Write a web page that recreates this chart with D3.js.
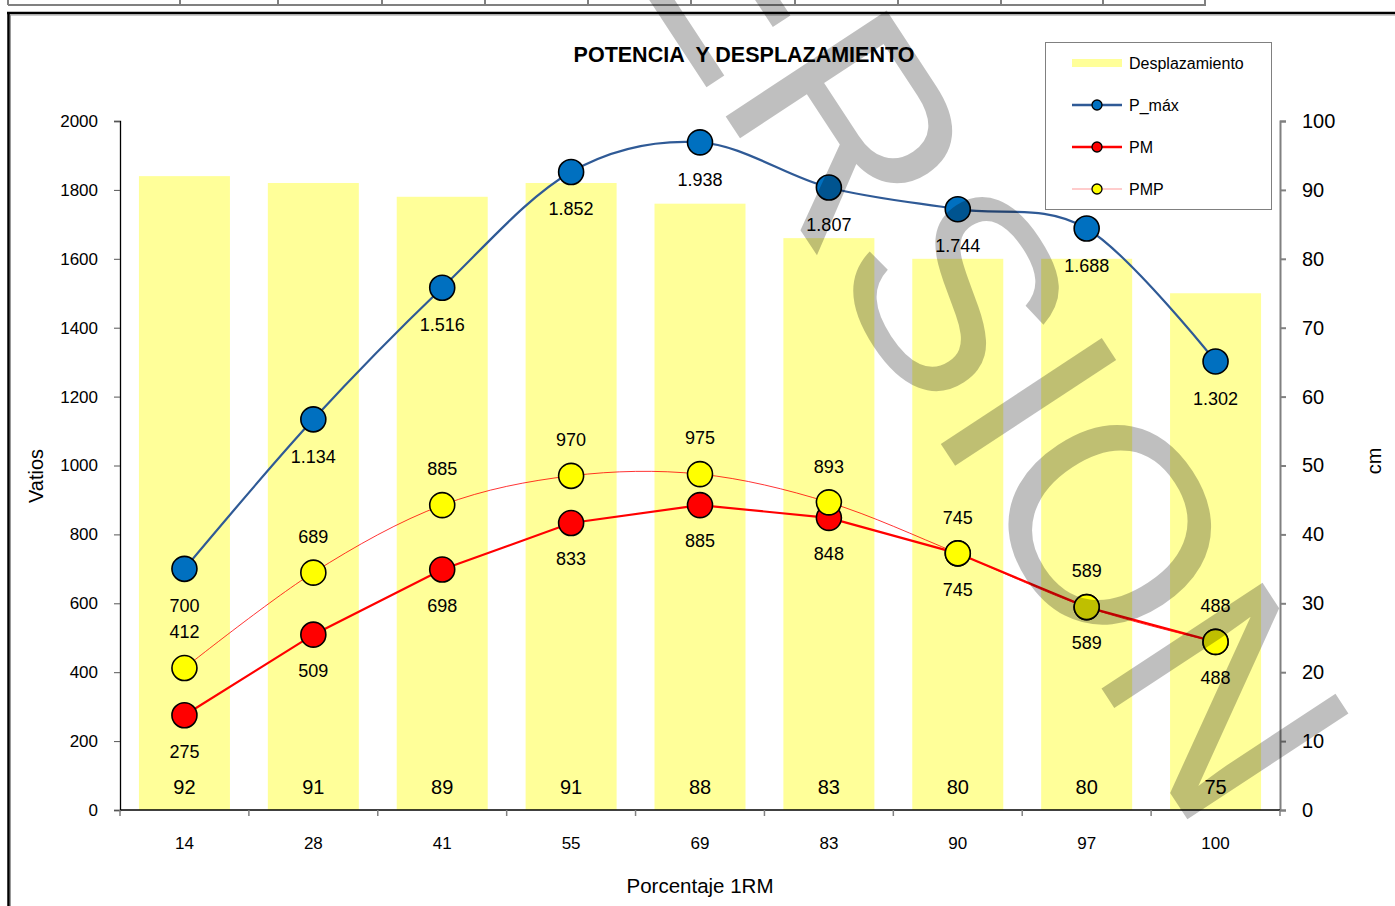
<!DOCTYPE html>
<html><head><meta charset="utf-8">
<script src="https://cdn.jsdelivr.net/npm/d3@7"></script>
<style>
html,body{margin:0;padding:0;background:#fff;}
svg{display:block;font-family:"Liberation Sans",Arial,sans-serif;}
</style></head>
<body>
<svg id="chart" width="1395" height="906"></svg>
<script>
const categories = ["14","28","41","55","69","83","90","97","100"];
const desplazamiento = [92,91,89,91,88,83,80,80,75];
const pMax = [700,1134,1516,1852,1938,1807,1744,1688,1302];
const pm = [275,509,698,833,885,848,745,589,488];
const pmp = [412,689,885,970,975,893,745,589,488];
const leftTicks = [0,200,400,600,800,1000,1200,1400,1600,1800,2000];
const rightTicks = [0,10,20,30,40,50,60,70,80,90,100];
const legendItems = ["Desplazamiento","P_máx","PM","PMP"];

const svg = d3.select("#chart");
const L = 120, R = 1280, T = 121, B = 810;

// top table strip (page decoration)
const stripX = [8,180,278,382,485,588,691,795,898,1001,1103,1205];
svg.append("line").attr("x1",8).attr("x2",1206).attr("y1",5).attr("y2",5).attr("stroke","#808080").attr("stroke-width",2);
stripX.forEach(xx=>svg.append("line").attr("x1",xx).attr("x2",xx).attr("y1",0).attr("y2",5).attr("stroke","#808080").attr("stroke-width",2));
// chart frame
svg.append("line").attr("x1",7).attr("x2",1395).attr("y1",13).attr("y2",13).attr("stroke","#000").attr("stroke-width",2.5);
svg.append("line").attr("x1",8.5).attr("x2",8.5).attr("y1",12).attr("y2",906).attr("stroke","#000").attr("stroke-width",2.5);
svg.append("line").attr("x1",10).attr("x2",1395).attr("y1",15).attr("y2",15).attr("stroke","#999").attr("stroke-width",1);
svg.append("line").attr("x1",10.5).attr("x2",10.5).attr("y1",15).attr("y2",906).attr("stroke","#999").attr("stroke-width",1);

const x = d3.scaleBand().domain(categories).range([L,R]).paddingInner(0.294).paddingOuter(0.147);
const y = d3.scaleLinear().domain([0,2000]).range([B,T]);
const y2 = d3.scaleLinear().domain([0,100]).range([B,T]);
const cx = c => x(c) + x.bandwidth()/2;
const fmt = d3.formatLocale({decimal:",",thousands:".",grouping:[3],currency:["",""]}).format(",d");

// bars
svg.append("g").selectAll("rect").data(desplazamiento).join("rect")
  .attr("x",(d,i)=>x(categories[i])).attr("width",x.bandwidth())
  .attr("y",d=>y2(d)).attr("height",d=>B-y2(d)).attr("fill","#FFFF99");

// left axis
const ga = svg.append("g").attr("transform",`translate(${L},0)`)
  .call(d3.axisLeft(y).tickValues(leftTicks).tickFormat(d3.format("d")).tickSize(6).tickPadding(16));
ga.select(".domain").attr("stroke","#000").attr("stroke-width",1.3);
ga.selectAll(".tick line").attr("stroke","#555");
ga.selectAll("text").attr("font-size",17).attr("fill","#000").attr("font-family","Liberation Sans, Arial");

// right axis
const gr = svg.append("g").attr("transform",`translate(${R},0)`)
  .call(d3.axisRight(y2).tickValues(rightTicks).tickSize(6).tickPadding(16));
gr.select(".domain").attr("stroke","#808080").attr("stroke-width",2);
gr.selectAll(".tick line").attr("stroke","#808080").attr("stroke-width",2);
gr.selectAll("text").attr("font-size",20).attr("fill","#000").attr("font-family","Liberation Sans, Arial");

// bottom axis
const gb = svg.append("g").attr("transform",`translate(0,${B})`)
  .call(d3.axisBottom(x).tickSize(0).tickPadding(27));
gb.select(".domain").remove();
gb.selectAll("text").attr("font-size",17).attr("fill","#000").attr("font-family","Liberation Sans, Arial");
svg.append("line").attr("x1",L).attr("x2",R).attr("y1",B).attr("y2",B).attr("stroke","#000").attr("stroke-width",1.5);
svg.append("g").selectAll("line").data(d3.range(categories.length+1)).join("line")
  .attr("x1",i=>L+i*x.step()).attr("x2",i=>L+i*x.step()).attr("y1",B).attr("y2",B+6)
  .attr("stroke","#808080").attr("stroke-width",1.5);

// bar labels
svg.append("g").selectAll("text").data(desplazamiento).join("text")
  .attr("x",(d,i)=>cx(categories[i])).attr("y",B-16).attr("text-anchor","middle")
  .attr("font-size",20).text(d=>d);

// lines
const pts = arr => arr.map((v,i)=>[cx(categories[i]), y(v)]);
svg.append("path").attr("d",d3.line().curve(d3.curveCardinal.tension(0))(pts(pmp)))
  .attr("fill","none").attr("stroke","#FF0000").attr("stroke-width",0.8);
svg.append("path").attr("d",d3.line()(pts(pm)))
  .attr("fill","none").attr("stroke","#FF0000").attr("stroke-width",2.2);
svg.append("path").attr("d",d3.line().curve(d3.curveCardinal.tension(0))(pts(pMax)))
  .attr("fill","none").attr("stroke","#2F5A96").attr("stroke-width",2.2);

function markers(arr, fill){
  svg.append("g").selectAll("circle").data(arr).join("circle")
    .attr("cx",(d,i)=>cx(categories[i])).attr("cy",d=>y(d)).attr("r",12.5)
    .attr("fill",fill).attr("stroke","#000").attr("stroke-width",1.6);
}
markers(pm,"#FF0000");
markers(pmp,"#FFFF00");
markers(pMax,"#0070C0");

function labels(arr, dy){
  svg.append("g").selectAll("text").data(arr).join("text")
    .attr("x",(d,i)=>cx(categories[i])).attr("y",d=>y(d)+dy).attr("dy","0.35em")
    .attr("text-anchor","middle").attr("font-size",18).text(d=>fmt(d));
}
labels(pMax,37);
labels(pm,36);
labels(pmp,-36);

// title
svg.append("text").attr("x",744).attr("y",62).attr("text-anchor","middle")
  .attr("font-size",21.5).attr("font-weight","bold").style("white-space","pre")
  .text("POTENCIA  Y DESPLAZAMIENTO");
// axis titles
svg.append("text").attr("x",700).attr("y",893).attr("text-anchor","middle").attr("font-size",20.5).text("Porcentaje 1RM");
svg.append("text").attr("transform","translate(43,476) rotate(-90)").attr("text-anchor","middle").attr("font-size",20).text("Vatios");
svg.append("text").attr("transform","translate(1381,461) rotate(-90)").attr("text-anchor","middle").attr("font-size",20).text("cm");

// legend
const lg = svg.append("g");
lg.append("rect").attr("x",1045.5).attr("y",42.5).attr("width",226).attr("height",167).attr("fill","#fff").attr("stroke","#808080").attr("stroke-width",1);
const ly = [63,105,147,189];
lg.append("rect").attr("x",1072).attr("y",59).attr("width",50).attr("height",8).attr("fill","#FFFF99");
const lstyles = [null,{c:"#2F5A96",w:2.5,f:"#0070C0"},{c:"#FF0000",w:2.5,f:"#FF0000"},{c:"#FF9999",w:1.2,f:"#FFFF00"}];
lstyles.forEach((s,i)=>{
  if(!s) return;
  lg.append("line").attr("x1",1072).attr("x2",1122).attr("y1",ly[i]).attr("y2",ly[i]).attr("stroke",s.c).attr("stroke-width",s.w);
  lg.append("circle").attr("cx",1097).attr("cy",ly[i]).attr("r",5).attr("fill",s.f).attr("stroke","#000").attr("stroke-width",1.3);
});
lg.selectAll("text.l").data(legendItems).join("text").attr("class","l")
  .attr("x",1129).attr("y",(d,i)=>ly[i]).attr("dy","0.35em").attr("font-size",16).text(d=>d);

// watermark
svg.append("text").attr("transform","translate(508,-215) rotate(56.7)")
  .attr("font-size",280).attr("fill","#000").attr("fill-opacity",0.25)
  .attr("stroke","#000").attr("stroke-opacity",0.25).attr("stroke-width",0)
  .text("VERSION");
</script>
</body></html>
